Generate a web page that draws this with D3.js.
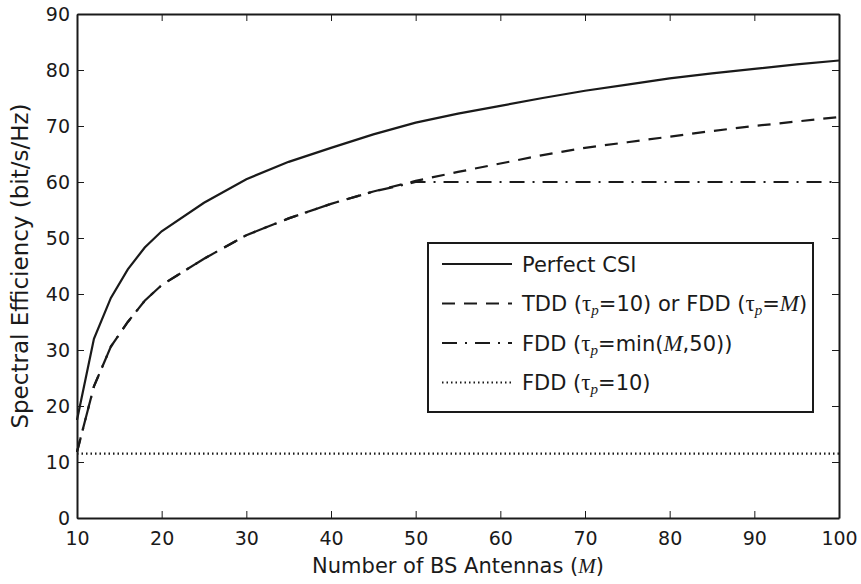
<!DOCTYPE html>
<html>
<head>
<meta charset="utf-8">
<script src="https://cdn.jsdelivr.net/npm/d3@7"></script>
<style>
  body { margin: 0; background: #fff; }
  svg { display: block; }
  text { font-family: "DejaVu Sans", sans-serif; fill: #1a1a1a; }
  .serif { font-family: "Liberation Serif", "DejaVu Serif", serif; }
</style>
</head>
<body>
<svg id="canvas"></svg>
<script>
// values
const antennas = [10, 12, 14, 16, 18, 20, 25, 30, 35, 40, 45, 50, 55, 60, 65, 70, 75, 80, 85, 90, 95, 100]
const perfectCSI = [17.5, 32.0, 39.3, 44.4, 48.3, 51.2, 56.3, 60.5, 63.6, 66.1, 68.5, 70.6, 72.2, 73.6, 75.0, 76.3, 77.4, 78.5, 79.4, 80.2, 81.0, 81.7]
const tddOrFddM = [11.8, 23.5, 30.6, 35.0, 38.8, 41.6, 46.3, 50.5, 53.5, 56.1, 58.3, 60.2, 61.8, 63.3, 64.8, 66.1, 67.1, 68.1, 69.1, 70.0, 70.8, 71.6]
const fddMin50 = [11.8, 23.5, 30.6, 35.0, 38.8, 41.6, 46.3, 50.5, 53.5, 56.1, 58.3, 60.0, 60.0, 60.0, 60.0, 60.0, 60.0, 60.0, 60.0, 60.0, 60.0, 60.0]
const fdd10 = [11.5, 11.5, 11.5, 11.5, 11.5, 11.5, 11.5, 11.5, 11.5, 11.5, 11.5, 11.5, 11.5, 11.5, 11.5, 11.5, 11.5, 11.5, 11.5, 11.5, 11.5, 11.5]

const xTicks = [10, 20, 30, 40, 50, 60, 70, 80, 90, 100]
const yTicks = [0, 10, 20, 30, 40, 50, 60, 70, 80, 90]

const xLabel = 'Number of BS Antennas ('
const yLabel = 'Spectral Efficiency (bit/s/Hz)'

const width = 861
const height = 584
const margin = { top: 14, right: 22, bottom: 66, left: 77 }
const ink = '#1a1a1a'

let canvas = d3.select('#canvas')
canvas.attr('width', width).attr('height', height)

let xScale = d3.scaleLinear()
    .domain([10, 100])
    .range([margin.left, width - margin.right])
let yScale = d3.scaleLinear()
    .domain([0, 90])
    .range([height - margin.bottom, margin.top])

// one entry per curve, same order as the legend
const series = [
    { values: perfectCSI, dash: null },
    { values: tddOrFddM, dash: '13,9' },
    { values: fddMin50, dash: '15,8,2,8' },
    { values: fdd10, dash: '1.5,3' }
]

let drawAxes = () => {
    let x0 = margin.left, x1 = width - margin.right
    let y0 = height - margin.bottom, y1 = margin.top

    let bottom = canvas.append('g')
        .attr('transform', `translate(0, ${y0})`)
        .call(d3.axisBottom(xScale).tickValues(xTicks).tickSize(-7).tickSizeOuter(0).tickPadding(14))
    let left = canvas.append('g')
        .attr('transform', `translate(${x0}, 0)`)
        .call(d3.axisLeft(yScale).tickValues(yTicks).tickSize(-7).tickSizeOuter(0).tickPadding(7))
    let top = canvas.append('g')
        .attr('transform', `translate(0, ${y1})`)
        .call(d3.axisTop(xScale).tickValues(xTicks).tickSize(-7).tickSizeOuter(0).tickFormat(''))
    let right = canvas.append('g')
        .attr('transform', `translate(${x1}, 0)`)
        .call(d3.axisRight(yScale).tickValues(yTicks).tickSize(-7).tickSizeOuter(0).tickFormat(''))

    for (let g of [bottom, left, top, right]) {
        g.selectAll('text').attr('font-size', 19).attr('font-family', 'DejaVu Sans').attr('fill', ink)
        g.selectAll('line').attr('stroke', ink).attr('stroke-width', 1)
        g.select('.domain').attr('stroke', ink).attr('stroke-width', 2)
    }

    canvas.append('text')
        .attr('x', (x0 + x1) / 2)
        .attr('y', 573)
        .attr('text-anchor', 'middle')
        .attr('font-size', 21)
        .call(t => {
            t.append('tspan').text(xLabel)
            t.append('tspan').attr('class', 'serif').attr('font-style', 'italic').text('M')
            t.append('tspan').text(')')
        })

    canvas.append('text')
        .attr('transform', `translate(28, ${(y0 + y1) / 2}) rotate(-90)`)
        .attr('text-anchor', 'middle')
        .attr('font-size', 23)
        .text(yLabel)
}

let drawLines = () => {
    let line = d3.line()
        .x((d, i) => xScale(antennas[i]))
        .y(d => yScale(d))

    canvas.selectAll('path.series')
        .data(series)
        .enter()
        .append('path')
        .attr('class', 'series')
        .attr('d', s => line(s.values))
        .attr('fill', 'none')
        .attr('stroke', ink)
        .attr('stroke-width', 2.2)
        .attr('stroke-dasharray', s => s.dash)
}

let tau = (t, rest) => {
    t.append('tspan').attr('class', 'serif').attr('font-size', 23).text('τ')
    t.append('tspan').attr('class', 'serif').attr('font-style', 'italic')
        .attr('font-size', 15).attr('dy', 4).text('p')
    t.append('tspan').attr('dy', -4).text(rest)
}

let drawLegend = () => {
    let box = { x: 428, y: 243, w: 385, h: 169 }
    let g = canvas.append('g')
    g.append('rect')
        .attr('x', box.x).attr('y', box.y)
        .attr('width', box.w).attr('height', box.h)
        .attr('fill', '#fff')
        .attr('stroke', ink)
        .attr('stroke-width', 2)

    let rowY = i => 264 + i * 39.5
    let labels = [
        t => t.append('tspan').text('Perfect CSI'),
        t => {
            t.append('tspan').text('TDD (')
            tau(t, '=10) or FDD (')
            tau(t, '=')
            t.append('tspan').attr('class', 'serif').attr('font-style', 'italic').attr('font-size', 23).text('M')
            t.append('tspan').text(')')
        },
        t => {
            t.append('tspan').text('FDD (')
            tau(t, '=min(')
            t.append('tspan').attr('class', 'serif').attr('font-style', 'italic').attr('font-size', 23).text('M')
            t.append('tspan').text(',50))')
        },
        t => {
            t.append('tspan').text('FDD (')
            tau(t, '=10)')
        }
    ]

    series.forEach((s, i) => {
        g.append('line')
            .attr('x1', 442).attr('x2', 512)
            .attr('y1', rowY(i)).attr('y2', rowY(i))
            .attr('stroke', ink)
            .attr('stroke-width', 2)
            .attr('stroke-dasharray', s.dash)
        g.append('text')
            .attr('x', 522)
            .attr('y', rowY(i) + 7.5)
            .attr('font-size', 21)
            .call(labels[i])
    })
}

drawLines()
drawAxes()
drawLegend()
</script>
</body>
</html>
